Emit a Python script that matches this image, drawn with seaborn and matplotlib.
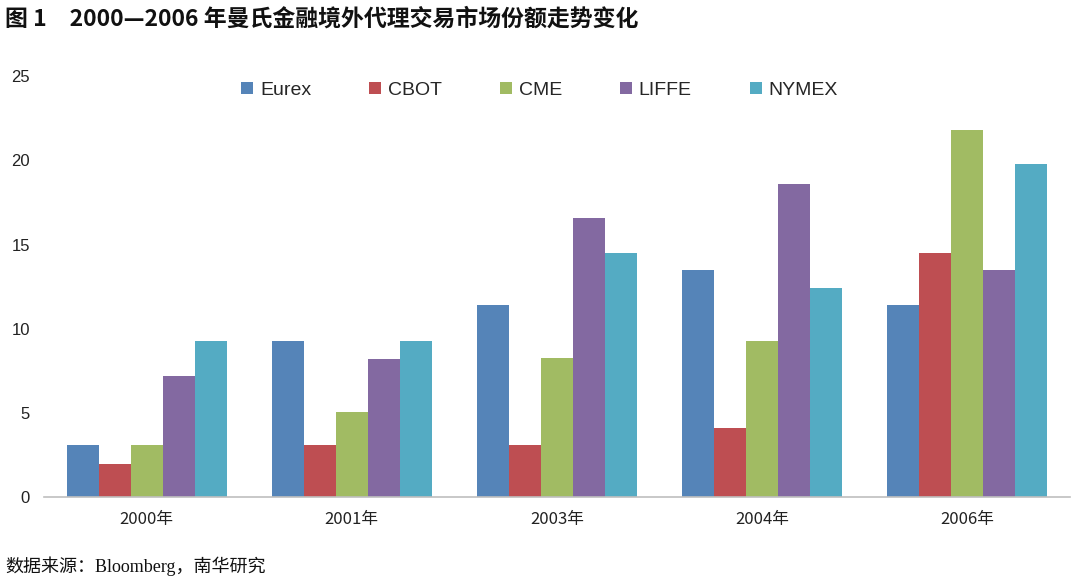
import numpy as np
import matplotlib.pyplot as plt
import pandas as pd
import seaborn as sns

years = ["2000年", "2001年", "2003年", "2004年", "2006年"]
exchanges = ["Eurex", "CBOT", "CME", "LIFFE", "NYMEX"]
eurex = [3.1, 9.3, 11.4, 13.5, 11.4]
cbot = [2.0, 3.1, 3.1, 4.1, 14.5]
cme = [3.1, 5.1, 8.3, 9.3, 21.8]
liffe = [7.2, 8.2, 16.6, 18.6, 13.5]
nymex = [9.3, 9.3, 14.5, 12.4, 19.8]
yticks = [0, 5, 10, 15, 20, 25]

title = "图 1　2000—2006 年曼氏金融境外代理交易市场份额走势变化"
source = "数据来源：Bloomberg，南华研究"
colors = ["#5584B8", "#BE4E52", "#A1BB63", "#8369A1", "#54ABC3"]

sns.set_style("white")
plt.rcParams["font.family"] = ["Liberation Sans", "Noto Sans CJK SC"]

df = pd.DataFrame({
    "year": years * len(exchanges),
    "exchange": np.repeat(exchanges, len(years)),
    "share": eurex + cbot + cme + liffe + nymex,
})

fig = plt.figure(figsize=(10.73, 5.82), dpi=100)
ax = fig.add_axes([0.041, 0.1452, 0.956, 0.7242])
sns.barplot(
    data=df, x="year", y="share", hue="exchange", hue_order=exchanges,
    palette=colors, saturation=1, width=0.78, linewidth=0, ax=ax,
)

ax.set_xlim(-0.5, 4.5)
ax.set_ylim(0, 25)
ax.set_yticks(yticks)
ax.set_xlabel("")
ax.set_ylabel("")
for side in ["left", "top", "right"]:
    ax.spines[side].set_visible(False)
ax.spines["bottom"].set_color("#bfbfbf")
ax.spines["bottom"].set_linewidth(1.2)
ax.tick_params(axis="y", length=0, pad=10, labelsize=12, labelcolor="#222222")
ax.tick_params(axis="x", length=0, pad=10, labelsize=12, labelcolor="#222222")
for lab in ax.get_xticklabels():
    lab.set_fontfamily(["Noto Sans CJK SC", "DejaVu Sans"])

handles, labels = ax.get_legend_handles_labels()
ax.legend(
    handles, labels, ncol=5, frameon=False, fontsize=14,
    loc="center", bbox_to_anchor=(0.503, 0.845), bbox_transform=fig.transFigure,
    handlelength=0.6, handleheight=0.6, handletextpad=0.35, columnspacing=3.0,
)

fig.text(0.005, 0.967, title, fontsize=16.5, fontweight="bold", va="center", ha="left",
         family=["Noto Sans CJK SC", "DejaVu Sans"], color="#111111")
fig.text(0.005, 0.027, source, fontsize=13, va="center", ha="left",
         family=["Liberation Serif", "Noto Sans CJK SC"], color="#111111")

fig.savefig("out.png", dpi=100)
